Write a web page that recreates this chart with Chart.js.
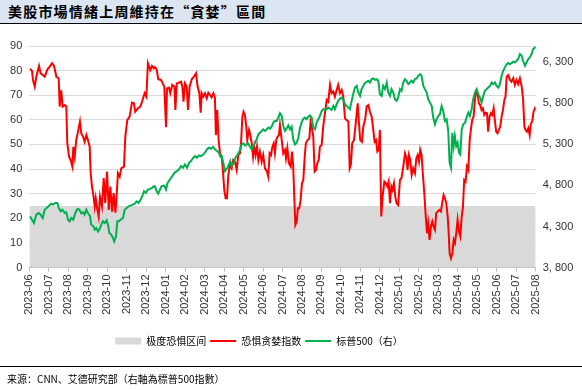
<!DOCTYPE html>
<html>
<head>
<meta charset="utf-8">
<script src="https://cdn.jsdelivr.net/npm/chart.js@4.4.1/dist/chart.umd.min.js"></script>
<style>
html,body{margin:0;padding:0;background:#fff;width:582px;height:390px;overflow:hidden;}
#title{position:absolute;left:0;top:0;width:582px;height:24px;background:#dce6f2;border-bottom:1.5px solid #000;
  font:bold 14px "Noto Sans CJK TC","Noto Sans CJK SC",sans-serif;line-height:23px;padding-left:8px;box-sizing:border-box;color:#000;letter-spacing:1.2px;}
#wrap{position:absolute;left:0;top:24px;width:582px;height:343px;}
#foot{position:absolute;left:0;top:366px;width:582px;height:24px;border-top:1px solid #000;
  font:10px "Noto Sans CJK SC",sans-serif;line-height:24px;padding-left:7px;box-sizing:border-box;color:#000;}
</style>
</head>
<body>
<div id="title">美股市場情緒上周維持在“貪婪”區間</div>
<div id="wrap"><canvas id="c" width="582" height="343"></canvas></div>
<div id="foot">来源：CNN、艾德研究部（右軸為標普500指數）</div>
<script>
// Month tick labels (x value = months since 2023-06)
const monthLabels = ['2023-06','2023-07','2023-08','2023-09','2023-10','2023-11','2023-12',
  '2024-01','2024-02','2024-03','2024-04','2024-05','2024-06','2024-07','2024-08','2024-09',
  '2024-10','2024-11','2024-12','2025-01','2025-02','2025-03','2025-04','2025-05','2025-06',
  '2025-07','2025-08'];

// Extreme fear zone upper bound
const extremeFearLevel = 25;

// Right axis tick values
const spxTicks = [3800, 4300, 4800, 5300, 5800, 6300];

// CNN Fear & Greed index: [month offset, value]
const fearGreed = [
 [0.04,80.8],[0.14,79.8],[0.19,76.2],[0.28,73.5],[0.36,77.5],[0.50,81.9],[0.58,78.9],[0.70,78.2],[0.79,77.5],[0.93,80.5],
 [1.05,81.6],[1.17,83],[1.27,81.9],[1.39,77.5],[1.51,76.9],[1.56,65.4],[1.64,72],[1.71,65.4],[1.82,66],[1.90,65.4],
 [1.95,50.5],[2.04,45],[2.12,43.7],[2.21,41],[2.26,49],[2.33,45],[2.41,51.8],[2.50,55.2],[2.60,59.3],[2.67,54.5],
 [2.76,53.2],[2.84,51.1],[2.93,53.8],[3.01,51.8],[3.10,49.1],[3.15,38.3],[3.22,32.9],[3.30,28.8],[3.36,24.8],[3.41,28.1],
 [3.48,24.1],[3.56,20.7],[3.63,28.8],[3.73,24.8],[3.82,36.3],[3.90,26.1],[3.99,39],[4.08,23.4],[4.16,32.9],[4.25,22.7],
 [4.33,30.2],[4.42,22.3],[4.48,28.8],[4.55,38.3],[4.64,36.9],[4.72,40.3],[4.86,41],[4.93,53.2],[5.03,59.9],[5.15,61.3],
 [5.27,67],[5.37,66.7],[5.44,63.3],[5.58,64.7],[5.70,65.4],[5.79,67.4],[5.92,70.8],[6.01,69.4],[6.09,83],[6.21,80.2],
 [6.30,81.9],[6.40,80.9],
 [6.45,81.4],[6.54,80.5],[6.62,76.5],[6.76,76.2],[6.83,75.1],[6.93,73.5],[7.02,57],[7.07,72.8],[7.17,73.1],[7.24,70.8],
 [7.34,74.2],[7.45,73.5],[7.50,64],[7.57,74.8],[7.68,75.1],[7.79,75.5],[7.86,73.5],[7.92,67.4],[7.99,74.8],[8.08,73.5],
 [8.15,64],[8.23,73.5],[8.34,76.5],[8.45,77.5],[8.56,78.9],[8.64,73.5],[8.73,70.8],[8.80,62.9],[8.85,70.8],[8.93,69.4],
 [9.02,70.8],[9.11,68.7],[9.19,71],[9.28,70.1],[9.36,69.1],[9.45,70.8],[9.53,69.1],[9.58,53.8],[9.65,64],[9.72,51.8],
 [9.79,46.4],[9.88,45],[9.94,39.6],[10.01,31.5],[10.08,28.1],[10.15,28.1],[10.22,37.6],[10.30,41.7],[10.39,40.3],[10.47,43.7],
 [10.56,43],[10.65,39.6],[10.73,45.7],[10.82,46.4],[10.87,50.5],[10.94,61.3],[11.00,63.3],[11.07,61.9],[11.14,57.2],[11.19,51.8],
 [11.28,55.9],[11.33,54.5],[11.42,50.5],[11.49,45],[11.55,49.1],[11.62,45.7],[11.69,49.1],[11.76,43.7],[11.84,47.1],[11.93,43],
 [12.01,45.7],[12.10,40.3],[12.20,39],[12.27,36.9],[12.34,46.4],[12.41,45.7],[12.48,49.1],[12.55,50.5],[12.61,46.4],[12.68,51.8],
 [12.75,53.2],[12.82,53.8],
 [12.87,57.9],[12.96,51.8],[13.04,46.4],[13.13,47.8],[13.18,44.4],[13.25,48.4],[13.33,42.4],[13.42,41],[13.49,47.1],[13.55,41],
 [13.61,27.5],[13.66,17.3],[13.73,18.7],[13.79,24.1],[13.86,24.1],[13.93,27.5],[14.00,34.2],[14.07,35.6],[14.14,45],[14.20,50.5],
 [14.29,51.8],[14.38,52.5],[14.44,59.3],[14.51,56.6],[14.58,53.2],[14.65,39],[14.72,39.6],[14.79,42.4],[14.86,43.7],[14.92,49.1],
 [15.01,49.8],[15.09,57.2],[15.18,62.7],[15.27,68.1],[15.35,67.4],[15.44,74.2],[15.52,70.8],[15.61,71.5],[15.69,69.4],[15.78,72.1],
 [15.86,74.2],[15.95,70.8],[16.04,72.1],[16.12,69.4],[16.21,60.6],[16.29,59.9],[16.38,59.3],[16.45,40.3],[16.51,41.7],[16.58,50.5],
 [16.67,51.8],[16.77,59.3],[16.86,66.7],[16.92,59.3],[16.99,51.8],[17.08,51.1],[17.15,57.2],[17.25,60.6],[17.32,65.4],[17.41,66],
 [17.49,63.3],[17.58,61.3],[17.66,55.9],[17.73,51.1],[17.80,51.8],[17.87,47.1],[17.94,47.8],[18.00,55.9],[18.07,20.7],[18.14,28.8],
 [18.23,34.9],[18.31,34.2],[18.38,32.9],[18.45,34.9],[18.52,26.1],[18.59,32.9],[18.65,31.5],[18.72,34.2],[18.79,28.8],[18.86,26.1],
 [18.94,25.4],[19.03,35.6],[19.11,36.3],[19.20,41],
 [19.29,46.4],[19.37,44.4],[19.42,39.6],[19.49,45.7],[19.56,43.7],[19.63,37.6],[19.71,40.3],[19.80,38.3],[19.87,44.4],[19.94,45.7],
 [20.01,43],[20.07,47.8],[20.14,45.7],[20.21,37.6],[20.28,30.2],[20.35,21.4],[20.42,13.9],[20.48,17.9],[20.55,11.2],[20.62,16.6],
 [20.69,18.7],[20.76,16.6],[20.83,15.3],[20.89,22.1],[20.96,22.7],[21.05,23.4],[21.13,22.7],[21.20,26.1],[21.27,29.5],[21.34,28.1],
 [21.41,26.1],[21.48,20.7],[21.53,14.6],[21.58,5.8],[21.65,3.8],[21.72,5.8],[21.79,11.2],[21.85,9.9],[21.92,13.9],[21.99,19.4],
 [22.06,14.6],[22.13,12.6],[22.20,20.7],[22.26,24.1],[22.33,35.6],[22.40,34.9],[22.47,41],[22.54,39.6],[22.61,51.8],[22.67,55.9],
 [22.74,60],[22.81,61.3],[22.88,68.1],[22.95,71.5],[23.02,70.8],[23.08,66.7],[23.15,66],[23.22,64],[23.29,64.7],[23.36,62],
 [23.43,62.9],[23.50,62.7],[23.56,55.2],[23.63,61.3],[23.70,62.7],[23.77,62],[23.84,64.7],[23.91,59.3],[23.97,55.2],[24.04,54.5],
 [24.11,55.9],[24.18,57.2],[24.25,61.3],[24.32,64],[24.39,68.1],[24.45,69.4],[24.51,77.5],[24.59,78.2],[24.68,76.2],[24.76,75.5],
 [24.85,76.9],[24.93,74.2],[25.02,76.2],[25.10,74.5],[25.19,76.9],[25.28,73.5],[25.35,68.7],[25.42,57.2],[25.48,55.9],[25.55,55.2],
 [25.62,56.6],[25.69,53.8],[25.75,58.5],[25.82,59.3],[25.89,63.3],[25.96,64.7],[26.0,64]
];

// S&P 500 close (right axis): [month offset, value]
const spx500 = [
 [0.04,4424],[0.14,4383],[0.24,4342],[0.36,4444],[0.48,4465],[0.58,4444],[0.69,4404],[0.79,4505],[0.89,4526],[0.99,4546],
 [1.10,4575],[1.22,4567],[1.34,4587],[1.44,4587],[1.51,4526],[1.61,4485],[1.70,4505],[1.82,4465],[1.90,4473],[1.99,4383],
 [2.07,4363],[2.16,4404],[2.26,4383],[2.36,4465],[2.47,4514],[2.57,4505],[2.67,4457],[2.76,4473],[2.84,4444],[2.93,4505],
 [3.01,4465],[3.12,4424],[3.18,4322],[3.29,4302],[3.36,4261],[3.44,4281],[3.53,4240],[3.61,4269],[3.70,4322],[3.78,4363],
 [3.87,4342],[3.97,4375],[4.04,4322],[4.11,4220],[4.21,4200],[4.30,4159],[4.36,4118],[4.45,4179],[4.52,4363],[4.60,4363],
 [4.69,4383],[4.81,4404],[4.90,4505],[5.00,4526],[5.10,4546],[5.20,4554],[5.31,4567],[5.41,4579],[5.51,4607],[5.61,4587],
 [5.72,4628],[5.80,4669],[5.89,4730],[5.99,4710],[6.09,4750],[6.20,4758],[6.30,4771],[6.40,4791],
 [6.45,4791],[6.54,4730],[6.62,4701],[6.71,4750],[6.79,4791],[6.93,4799],[7.02,4750],[7.10,4832],[7.22,4873],[7.34,4913],
 [7.45,4954],[7.57,4974],[7.68,4995],[7.79,5036],[7.89,5016],[7.99,5056],[8.10,5016],[8.20,5076],[8.30,5097],[8.42,5138],
 [8.51,5158],[8.61,5138],[8.71,5166],[8.81,5158],[8.93,5178],[9.02,5199],[9.12,5240],[9.22,5260],[9.33,5248],[9.43,5272],
 [9.53,5240],[9.64,5219],[9.74,5199],[9.81,5150],[9.88,5158],[9.96,5076],[10.05,4974],[10.11,4995],[10.18,5016],[10.25,5056],
 [10.32,5097],[10.39,5036],[10.49,5076],[10.59,5138],[10.70,5178],[10.80,5219],[10.90,5301],[10.99,5313],[11.07,5289],[11.16,5301],
 [11.24,5313],[11.33,5272],[11.42,5240],[11.50,5281],[11.59,5321],[11.67,5362],[11.76,5423],[11.84,5443],[11.93,5464],[12.01,5484],
 [12.10,5464],[12.19,5484],[12.27,5505],[12.36,5493],[12.44,5517],[12.53,5566],[12.61,5586],[12.70,5586],[12.78,5627],
 [12.87,5680],[12.96,5647],[13.04,5525],[13.13,5464],[13.21,5493],[13.30,5533],[13.38,5484],[13.47,5517],[13.55,5362],[13.64,5301],
 [13.73,5321],[13.81,5382],[13.90,5505],[13.98,5566],[14.07,5615],[14.15,5627],[14.24,5607],[14.32,5639],[14.41,5655],[14.50,5627],
 [14.58,5505],[14.67,5484],[14.75,5566],[14.84,5607],[14.92,5647],[15.01,5708],[15.09,5729],[15.18,5721],[15.27,5729],[15.35,5749],
 [15.44,5737],[15.52,5721],[15.61,5770],[15.69,5729],[15.78,5790],[15.86,5831],[15.95,5859],[16.04,5872],[16.12,5843],[16.21,5790],
 [16.29,5770],[16.38,5749],[16.46,5729],[16.55,5831],[16.63,5912],[16.72,5994],[16.81,6014],[16.89,5933],[16.98,5892],[17.06,5974],
 [17.15,6014],[17.23,6047],[17.32,6063],[17.40,6076],[17.49,6055],[17.58,6096],[17.66,6104],[17.75,6088],[17.83,6096],[17.92,6076],
 [18.00,5912],[18.09,5892],[18.17,6014],[18.26,5974],[18.35,6055],[18.43,5933],[18.52,5892],[18.60,5974],[18.69,5933],[18.77,5851],
 [18.86,5831],[18.94,5872],[19.03,5974],[19.11,5953],[19.20,6055],
 [19.29,6096],[19.37,6076],[19.46,6035],[19.54,6055],[19.63,6076],[19.71,6055],[19.80,6096],[19.89,6104],[19.97,6137],[20.06,6157],
 [20.14,6137],[20.23,6014],[20.31,5974],[20.40,5933],[20.48,5851],[20.57,5810],[20.66,5770],[20.74,5627],[20.83,5545],[20.91,5607],
 [21.00,5647],[21.08,5668],[21.17,5770],[21.25,5708],[21.34,5586],[21.43,5607],[21.51,5464],[21.58,5076],[21.65,5015],[21.72,5443],
 [21.79,5280],[21.85,5403],[21.92,5280],[21.99,5321],[22.06,5199],[22.13,5178],[22.20,5484],[22.28,5545],[22.37,5566],[22.45,5627],
 [22.54,5688],[22.62,5647],[22.71,5729],[22.79,5851],[22.88,5933],[22.97,5974],[23.05,5912],[23.14,5872],[23.22,5810],[23.31,5892],
 [23.39,5953],[23.48,5974],[23.56,5994],[23.65,6014],[23.74,6055],[23.82,6035],[23.91,6055],[23.99,6014],[24.08,5994],[24.16,6035],
 [24.25,6137],[24.33,6198],[24.42,6239],[24.51,6279],[24.59,6292],[24.68,6279],[24.76,6292],[24.85,6308],[24.93,6300],[25.02,6320],
 [25.10,6341],[25.19,6402],[25.28,6381],[25.35,6320],[25.45,6259],[25.53,6300],[25.62,6341],[25.70,6361],[25.79,6402],[25.87,6463],
 [25.96,6483],[26.0,6471]
];

const toXY = arr => arr.map(([x, y]) => ({x, y}));
const lastMonth = monthLabels.length - 1;

const legendShift = {
  id: 'legendShift',
  afterLayout(chart) {
    const lg = chart.legend;
    if (lg) { lg.left -= 32; lg.right -= 32; }
  }
};

const tickFont = {family: '"Liberation Sans", Arial, sans-serif', size: 11};

new Chart(document.getElementById('c'), {
  type: 'line',
  data: {
    datasets: [
      {
        label: '极度恐惧区间',
        data: [{x: 0, y: extremeFearLevel}, {x: lastMonth, y: extremeFearLevel}],
        yAxisID: 'y', fill: 'origin', backgroundColor: '#d9d9d9',
        borderColor: 'rgba(0,0,0,0)', borderWidth: 0, pointRadius: 0, pointStyle: 'rect', order: 3
      },
      {
        label: '恐惧贪婪指数',
        data: toXY(fearGreed),
        yAxisID: 'y', fill: false, borderColor: '#ff0000', backgroundColor: '#ff0000',
        borderWidth: 2, pointRadius: 0, pointStyle: 'line', tension: 0, order: 2
      },
      {
        label: '标普500（右）',
        data: toXY(spx500),
        yAxisID: 'y1', fill: false, borderColor: '#00b050', backgroundColor: '#00b050',
        borderWidth: 2, pointRadius: 0, pointStyle: 'line', tension: 0, order: 1
      }
    ]
  },
  options: {
    responsive: false,
    devicePixelRatio: 1,
    animation: false,
    events: [],
    layout: {padding: {top: 22, bottom: 11, left: 0, right: 0}},
    plugins: {
      tooltip: {enabled: false},
      title: {display: false},
      legend: {
        position: 'bottom',
        align: 'center',
        labels: {
          usePointStyle: true, pointStyleWidth: 26, boxWidth: 26, boxHeight: 7, padding: 4,
          color: '#000',
          font: {family: '"Noto Sans CJK SC", sans-serif', size: 10},
          sort: (a, b) => a.datasetIndex - b.datasetIndex
        }
      }
    },
    scales: {
      x: {
        type: 'linear', min: 0, max: lastMonth,
        ticks: {
          stepSize: 1, autoSkip: false, maxRotation: 90, minRotation: 90, padding: 3,
          color: '#333', font: tickFont,
          callback: v => monthLabels[v]
        },
        grid: {drawOnChartArea: false, drawTicks: true, tickLength: 4, color: '#bfbfbf'},
        border: {color: '#bfbfbf'},
        afterFit: s => { s.height = 64.5; }
      },
      y: {
        position: 'left', min: 0, max: 90,
        ticks: {stepSize: 10, padding: 7, color: '#333', font: tickFont},
        grid: {color: '#d9d9d9', drawTicks: false},
        border: {display: false},
        afterFit: s => { s.width = 29.3; }
      },
      y1: {
        position: 'right', min: 3800, max: 6500,
        afterBuildTicks: s => { s.ticks = spxTicks.map(v => ({value: v})); },
        ticks: {
          padding: 7, color: '#333', font: tickFont,
          callback: v => Math.floor(v / 1000) + ', ' + String(v % 1000).padStart(3, '0')
        },
        grid: {drawOnChartArea: false, drawTicks: false},
        border: {display: false},
        afterFit: s => { s.width = 46.3; }
      }
    }
  },
  plugins: [legendShift]
});
</script>
</body>
</html>
